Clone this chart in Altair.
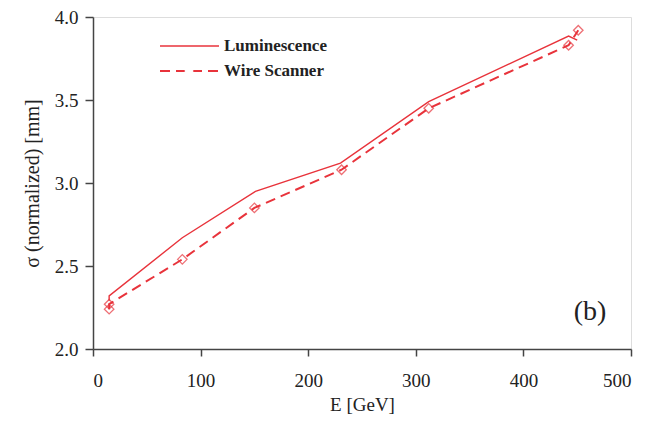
import altair as alt
import pandas as pd

# Luminescence (solid line)
lum_e = [15, 15, 83, 151, 230, 312, 442, 450]
lum_s = [2.29, 2.32, 2.67, 2.95, 3.12, 3.49, 3.885, 3.86]

# Wire scanner (dashed line + diamonds)
ws_e = [15, 15, 83, 150, 231, 312, 442, 451]
ws_s = [2.24, 2.27, 2.54, 2.85, 3.08, 3.45, 3.83, 3.92]

x_ticks = [0, 100, 200, 300, 400, 500]
y_ticks = [2.0, 2.5, 3.0, 3.5, 4.0]

RED = "#e8333b"
FONT = "'Liberation Serif', 'Times New Roman', serif"

lum = pd.DataFrame({"E": lum_e, "s": lum_s, "o": range(len(lum_e))})
ws = pd.DataFrame({"E": ws_e, "s": ws_s, "o": range(len(ws_e))})

xs = alt.Scale(domain=[0, 500], nice=False, zero=False)
ys = alt.Scale(domain=[2.0, 4.0], nice=False, zero=False)

x_axis = alt.Axis(values=x_ticks, title="E [GeV]", grid=False, format="d",
                  labelFont=FONT, labelFontSize=19, titleFont=FONT, titleFontSize=19,
                  titleFontWeight="normal", labelColor="#222", titleColor="#222",
                  domainColor="#444", tickColor="#444", domainWidth=1.5, tickWidth=1.5,
                  tickSize=7, labelPadding=15, titlePadding=5)
y_axis = alt.Axis(values=y_ticks, title="σ (normalized) [mm]", grid=False, format=".1f",
                  labelFont=FONT, labelFontSize=19, titleFont=FONT, titleFontSize=20,
                  titleFontWeight="normal", labelColor="#222", titleColor="#222",
                  domainColor="#444", tickColor="#444", domainWidth=1.5, tickWidth=1.5,
                  tickSize=8, labelPadding=7, titlePadding=12, labelBaseline="middle")

lum_line = alt.Chart(lum).mark_line(color=RED, strokeWidth=1.4).encode(
    x=alt.X("E:Q", scale=xs, axis=x_axis),
    y=alt.Y("s:Q", scale=ys, axis=y_axis),
    order="o:Q",
)
ws_line = alt.Chart(ws).mark_line(color=RED, strokeWidth=2, strokeDash=[10, 6]).encode(
    x=alt.X("E:Q", scale=xs),
    y=alt.Y("s:Q", scale=ys),
    order="o:Q",
)
ws_pts = alt.Chart(ws).mark_point(shape="diamond", color=RED, filled=False, size=90,
                                  strokeWidth=1.3).encode(
    x=alt.X("E:Q", scale=xs),
    y=alt.Y("s:Q", scale=ys),
)

# legend (manual)
leg_lum = alt.Chart(pd.DataFrame({"a": [0]})).mark_rule(color=RED, strokeWidth=1.4).encode(
    x=alt.value(67), x2=alt.value(126), y=alt.value(29))
leg_ws = alt.Chart(pd.DataFrame({"a": [0]})).mark_rule(color=RED, strokeWidth=2, strokeDash=[10, 6]).encode(
    x=alt.value(67), x2=alt.value(126), y=alt.value(54))
leg_pt = alt.Chart(pd.DataFrame({"a": [0]})).mark_point(shape="diamond", color=RED, filled=True,
                                                       fill="white", size=90, strokeWidth=1.3,
                                                       opacity=1).encode(
    x=alt.value(96), y=alt.value(54))
leg_txt = alt.Chart(pd.DataFrame({"t": ["Luminescence", "Wire Scanner"], "yy": [29, 54]})).mark_text(
    font=FONT, fontSize=17, fontWeight="bold", align="left", baseline="middle", color="#222",
    dx=0).encode(x=alt.value(131), y=alt.Y("yy:Q", scale=None), text="t:N")

label_b = alt.Chart(pd.DataFrame({"E": [462], "s": [2.22], "t": ["(b)"]})).mark_text(
    font=FONT, fontSize=28, align="center", baseline="middle", color="#222").encode(
    x=alt.X("E:Q", scale=xs), y=alt.Y("s:Q", scale=ys), text="t:N")

chart = alt.layer(lum_line, ws_line, ws_pts, leg_lum, leg_ws, leg_pt, leg_txt, label_b).properties(
    width=538, height=332,
    autosize=alt.AutoSizeParams(type="none"),
    padding={"left": 85, "top": 9, "right": 20, "bottom": 66},
).configure_view(stroke=None).configure(background="white")

chart.save("out.html", embed_options={"renderer": "svg", "actions": False})
